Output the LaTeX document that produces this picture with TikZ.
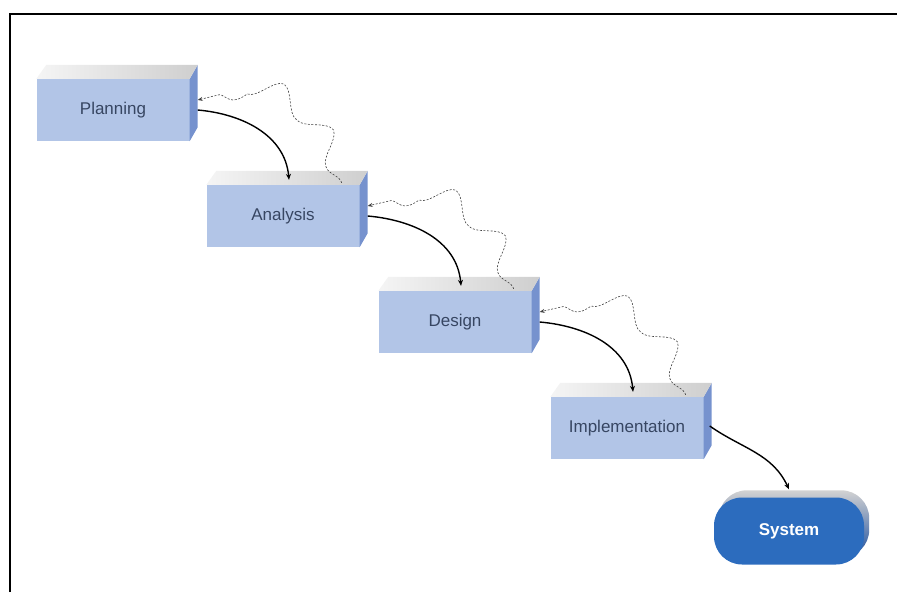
\documentclass[tikz,border=0pt]{standalone}
\usepackage{fontspec}
\setmainfont{Liberation Sans}
\usetikzlibrary{arrows.meta, decorations.pathmorphing, backgrounds, calc}
\definecolor{BoxFront}{RGB}{178,197,231}
\definecolor{BoxSide}{RGB}{118,146,206}
\definecolor{BoxText}{RGB}{55,70,98}
\definecolor{SysBlue}{RGB}{44,108,190}
\definecolor{SysSide}{RGB}{28,78,158}
\tikzset{
	stepface/.style={fill=BoxFront, minimum width=153pt, minimum height=62pt,
		inner sep=0pt, font=\fontsize{17}{19}\selectfont, text=BoxText},
	topface/.style={left color=gray!8, right color=gray!38},
	sysface/.style={fill=SysBlue, rounded corners=28pt, minimum width=150pt,
		minimum height=67pt, font=\fontsize{17}{19}\selectfont\bfseries, text=white},
	flow/.style={line width=1.4pt, -{Stealth[length=6pt,width=5pt]}},
	feedback/.style={line width=0.6pt, dash pattern=on 2pt off 1.6pt, black!75,
		-{Stealth[length=5pt,width=4pt]}, decorate,
		decoration={snake, amplitude=11pt, segment length=62pt, post length=6pt}}
}

\begin{document}
\begin{tikzpicture}[x=1pt, y=1pt]
	\useasboundingbox (0,0) rectangle (897,-592);
	\draw[line width=2pt] (10,-592) -- (10,-14) -- (897,-14);
	% the four stages
	\foreach \n/\t/\x/\y in {
		plan/Planning/113/110,
		ana/Analysis/283/216,
		des/Design/455/322,
		imp/Implementation/627/428}{
		\node[stepface] (\n) at (\x,-\y) {\t};
		\fill[BoxSide] (\n.north east) -- ++(8,14) -- ([shift={(8,14)}]\n.south east)
			-- (\n.south east) -- cycle;
		\shade[topface] (\n.north west) -- ++(10,14) -- ([shift={(8,14)}]\n.north east)
			-- (\n.north east) -- cycle;
	}
	\node[sysface] (sys) at (789,-531) {System};
	\begin{scope}[on background layer]
		\shade[top color=gray!35, bottom color=SysSide, rounded corners=28pt]
			([shift={(5,7)}]sys.south west) rectangle ([shift={(5,7)}]sys.north east);
	\end{scope}
	% forward and backward steps
	\foreach \a/\b in {plan/ana, ana/des, des/imp}{
		\draw[flow] ([xshift=8pt]\a.east) to[out=-5, in=95] ([shift={(6,5)}]\b.north);
		\draw[feedback] ([shift={(-18,2)}]\b.north east) to[out=105, in=15]
			([shift={(8,10)}]\a.east);
	}
	\draw[flow] ([shift={(6,2)}]imp.east) to[out=-35, in=115] ([shift={(0,8)}]sys.north);
\end{tikzpicture}
\end{document}
